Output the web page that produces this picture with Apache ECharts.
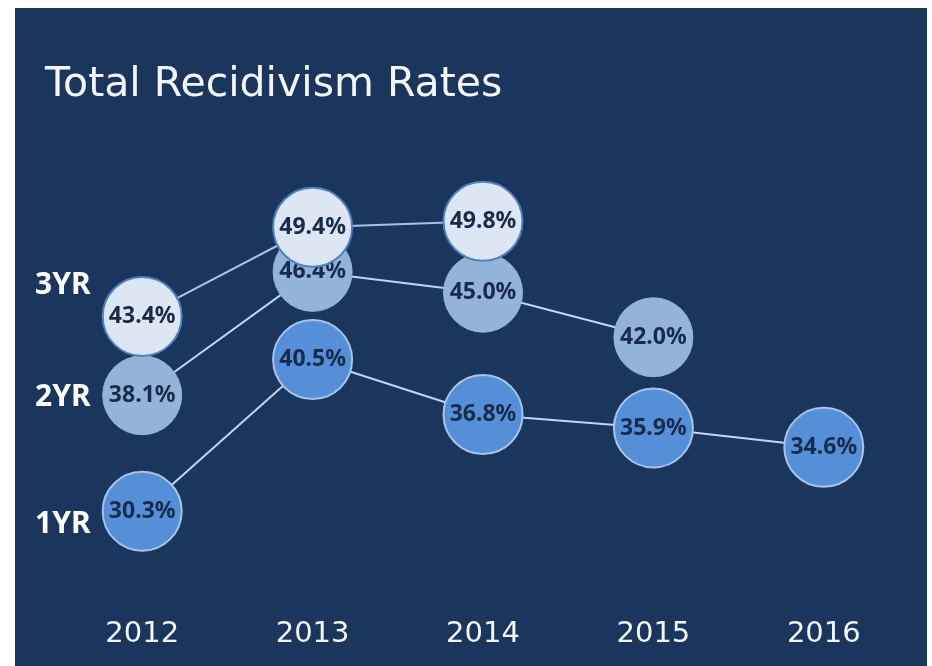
<!DOCTYPE html>
<html>
<head>
<meta charset="utf-8">
<script src="https://cdn.jsdelivr.net/npm/echarts@6/dist/echarts.min.js"></script>
<style>
  html, body { margin: 0; padding: 0; background: #ffffff; }
  #chart { position: absolute; left: 15px; top: 8px; width: 912px; height: 658px; }
</style>
</head>
<body>
<div id="chart"></div>
<script>
// data
var years = ["2012", "2013", "2014", "2015", "2016"];
var oneYr = [30.3, 40.5, 36.8, 35.9, 34.6];
var twoYr = [38.1, 46.4, 45.0, 42.0, null];
var threeYr = [43.4, 49.4, 49.8, null, null];
var seriesNames = ["1YR", "2YR", "3YR"];

var chart = echarts.init(document.getElementById("chart"));

function dotLabel() {
  return {
    show: true,
    position: "inside",
    formatter: function (p) { return p.value.toFixed(1) + "%"; },
    color: "#172b4a",
    fontFamily: "Noto Sans",
    fontWeight: "bold",
    fontSize: 23
  };
}

var option = {
  backgroundColor: "#1a365c",
  title: {
    text: "Total Recidivism Rates",
    left: 25,
    top: 52,
    textStyle: {
      color: "#f4f6fa",
      fontFamily: "DejaVu Sans",
      fontWeight: "normal",
      fontSize: 41
    }
  },
  grid: {
    left: 42,
    right: 18,
    top: 136,
    bottom: 76
  },
  xAxis: {
    type: "category",
    data: years,
    axisLine: { show: false },
    axisTick: { show: false },
    axisLabel: {
      color: "#f4f6fa",
      fontFamily: "DejaVu Sans",
      fontSize: 29,
      margin: 30
    }
  },
  yAxis: {
    type: "value",
    min: 25,
    max: 55,
    show: false,
    splitLine: { show: false }
  },
  graphic: [
    { type: "text", left: 20, top: 262, style: { text: seriesNames[2], fill: "#ffffff", font: "bold 30px 'Noto Sans'" } },
    { type: "text", left: 20, top: 374, style: { text: seriesNames[1], fill: "#ffffff", font: "bold 30px 'Noto Sans'" } },
    { type: "text", left: 20, top: 501, style: { text: seriesNames[0], fill: "#ffffff", font: "bold 30px 'Noto Sans'" } }
  ],
  series: [
    {
      name: seriesNames[0],
      type: "line",
      data: oneYr,
      symbol: "circle",
      symbolSize: 79,
      lineStyle: { color: "#c3d4ec", width: 2 },
      itemStyle: { color: "#558fd8", borderColor: "#a8c3e8", borderWidth: 2 },
      label: dotLabel(),
      z: 2
    },
    {
      name: seriesNames[1],
      type: "line",
      data: twoYr,
      symbol: "circle",
      symbolSize: 79,
      lineStyle: { color: "#c3d4ec", width: 2 },
      itemStyle: { color: "#94b3d9", borderColor: "#94b3d9", borderWidth: 1 },
      label: dotLabel(),
      z: 3
    },
    {
      name: seriesNames[2],
      type: "line",
      data: threeYr,
      symbol: "circle",
      symbolSize: 79,
      lineStyle: { color: "#a9c2e3", width: 2 },
      itemStyle: { color: "#dde6f3", borderColor: "#4f80c0", borderWidth: 2 },
      label: dotLabel(),
      z: 4
    }
  ]
};

chart.setOption(option);
</script>
</body>
</html>
